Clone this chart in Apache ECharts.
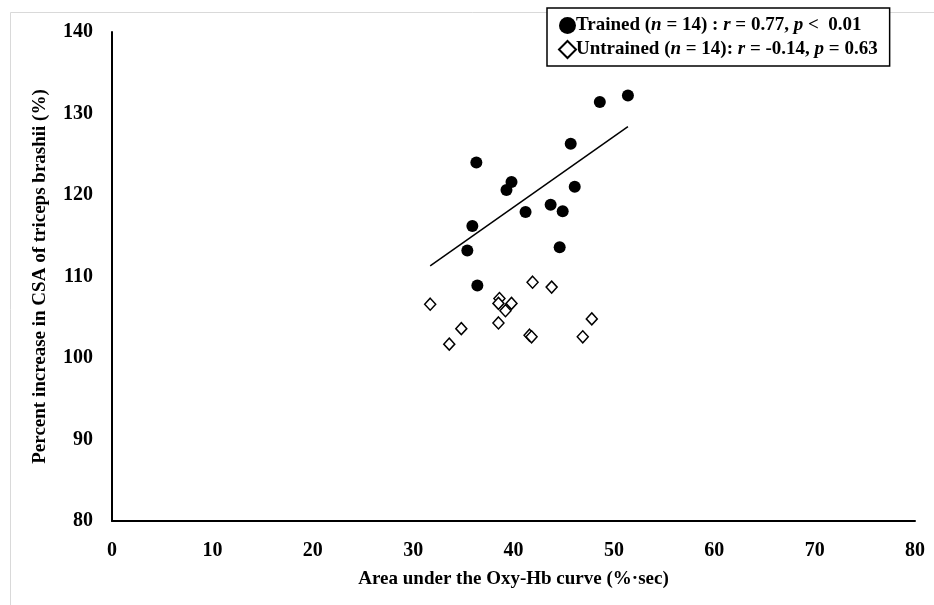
<!DOCTYPE html>
<html>
<head>
<meta charset="utf-8">
<script src="https://cdn.jsdelivr.net/npm/echarts@6/dist/echarts.min.js"></script>
<style>
html,body{margin:0;padding:0;background:#fff;}
#main{width:934px;height:605px;}
</style>
</head>
<body>
<div id="main"></div>
<script>
// Trained (filled circles)
var trainedX = [51.4, 48.6, 45.7, 36.3, 39.8, 39.3, 46.1, 43.7, 41.2, 44.9, 35.9, 35.4, 44.6, 36.4];
var trainedY = [132.2, 131.4, 126.3, 124.0, 121.6, 120.6, 121.0, 118.8, 117.9, 118.0, 116.2, 113.2, 113.6, 108.9];
// Untrained (open diamonds)
var untrainedX = [31.7, 34.8, 33.6, 38.6, 38.5, 39.8, 39.2, 38.5, 41.9, 43.8, 41.6, 41.8, 47.8, 46.9];
var untrainedY = [106.6, 103.6, 101.7, 107.3, 106.7, 106.7, 105.8, 104.3, 109.3, 108.7, 102.8, 102.6, 104.8, 102.6];
// Linear trendline for trained
var trendX = [31.7, 51.4];
var trendY = [111.3, 128.4];

var xTicks = [0, 10, 20, 30, 40, 50, 60, 70, 80];
var yTicks = [80, 90, 100, 110, 120, 130, 140];

function pairs(xs, ys) { return xs.map(function (x, i) { return [x, ys[i]]; }); }

var FONT = '"Liberation Serif", "Times New Roman", serif';
var chart = echarts.init(document.getElementById('main'));
var richBase = {
  b: { fontFamily: FONT, fontWeight: 'bold', fontSize: 19, color: '#000' },
  i: { fontFamily: FONT, fontWeight: 'bold', fontStyle: 'italic', fontSize: 19, color: '#000' }
};
chart.setOption({
  backgroundColor: '#fff',
  animation: false,
  graphic: [{
    type: 'rect', z: -10, silent: true,
    shape: { x: 10.5, y: 12.5, width: 1000, height: 1000 },
    style: { fill: 'none', stroke: '#d9d9d9', lineWidth: 1 }
  }],
  grid: { left: 112, right: 19, top: 32, bottom: 84, containLabel: false },
  legend: {
    data: ['Trained', 'Untrained'],
    orient: 'vertical',
    left: 547, top: 8,
    padding: [8, 12, 7, 11],
    itemGap: 5,
    itemWidth: 17, itemHeight: 17,
    backgroundColor: '#fff',
    borderColor: '#000', borderWidth: 1.5,
    z: 20,
    formatter: function (name) {
      if (name === 'Trained') {
        return '{b|Trained (}{i|n}{b| = 14) : }{i|r}{b| = 0.77, }{i|p}{b| <  0.01}';
      }
      return '{b|Untrained (}{i|n}{b| = 14): }{i|r}{b| = -0.14, }{i|p}{b| = 0.63}';
    },
    textStyle: { padding: [0, 0, 0, -5], rich: richBase }
  },
  xAxis: {
    type: 'value', min: 0, max: 80, interval: 10,
    name: 'Area under the Oxy-Hb curve (%\u00b7sec)',
    nameLocation: 'middle', nameGap: 49,
    nameTextStyle: { fontFamily: FONT, fontWeight: 'bold', fontSize: 19, color: '#000' },
    axisLine: { show: true, onZero: false, lineStyle: { color: '#000', width: 2 } },
    axisTick: { show: false },
    splitLine: { show: false },
    axisLabel: { margin: 20, fontFamily: FONT, fontWeight: 'bold', fontSize: 20, color: '#000',
      formatter: function (v) { return xTicks.indexOf(v) >= 0 ? String(v) : ''; } }
  },
  yAxis: {
    type: 'value', min: 80, max: 140, interval: 10,
    name: 'Percent increase in CSA of triceps brashii (%)',
    nameLocation: 'middle', nameGap: 62,
    nameTextStyle: { fontFamily: FONT, fontWeight: 'bold', fontSize: 19, color: '#000' },
    axisLine: { show: true, onZero: false, lineStyle: { color: '#000', width: 2 } },
    axisTick: { show: false },
    splitLine: { show: false },
    axisLabel: { margin: 19, padding: [4, 0, 0, 0], fontFamily: FONT, fontWeight: 'bold', fontSize: 20, color: '#000',
      formatter: function (v) { return yTicks.indexOf(v) >= 0 ? String(v) : ''; } }
  },
  series: [
    {
      name: 'Trendline', type: 'line', data: pairs(trendX, trendY),
      showSymbol: false, symbol: 'none', silent: true,
      lineStyle: { color: '#000', width: 1.5 }, z: 1
    },
    {
      name: 'Untrained', type: 'scatter', data: pairs(untrainedX, untrainedY),
      symbol: 'diamond', symbolSize: [11, 12],
      itemStyle: { color: '#fff', borderColor: '#000', borderWidth: 1.5, opacity: 1 }, z: 2
    },
    {
      name: 'Trained', type: 'scatter', data: pairs(trainedX, trainedY),
      symbol: 'circle', symbolSize: 12,
      itemStyle: { color: '#000', opacity: 1 }, z: 3
    }
  ]
});
</script>
</body>
</html>
